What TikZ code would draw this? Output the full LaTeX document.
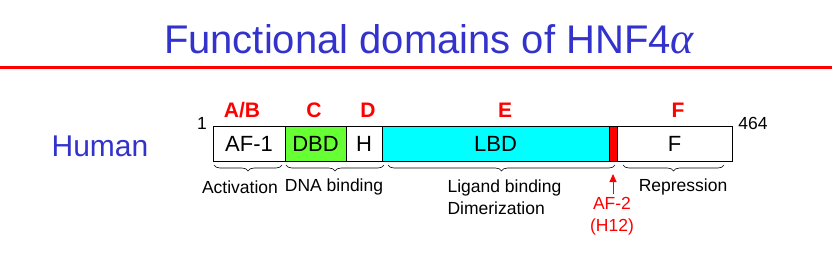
\documentclass[tikz,border=0pt]{standalone}
\usepackage{fontspec}
\setmainfont{Liberation Sans}
\newfontfamily\greekserif{Liberation Serif}
\usetikzlibrary{decorations.pathreplacing,arrows.meta}
\definecolor{titleblue}{RGB}{51,51,204}
\definecolor{dbdgreen}{RGB}{102,255,51}
\definecolor{lbdcyan}{RGB}{0,255,255}
\definecolor{domred}{RGB}{255,0,0}
\begin{document}
\begin{tikzpicture}[x=1pt,y=-1pt,
  box/.style={draw=black,line width=1pt,rectangle,inner sep=0pt,minimum height=35pt,font=\fontsize{22}{24}\selectfont},
  letter/.style={text=domred,font=\fontsize{21}{23}\selectfont\bfseries},
  small/.style={font=\fontsize{17.5}{22}\selectfont},
  brace/.style={decorate,decoration={brace,amplitude=6pt},line width=0.6pt}
]
\useasboundingbox (0,0) rectangle (832,269);
% title
\node[text=titleblue,font=\fontsize{40}{44}\selectfont,anchor=base] (title) at (429,53) {Functional domains of HNF4{\greekserif\itshape\fontsize{44}{44}\selectfont α}};
\draw[domred,line width=3pt] (0,67) coordinate (rl) -- (832,67) coordinate (rr);
% Human
\node[text=titleblue,font=\fontsize{30}{32}\selectfont] (human) at (100,146) {Human};
% boxes
\node[box,minimum width=72pt] (af1) at (249,143.5) {AF-1};
\node[box,minimum width=61pt,fill=dbdgreen] (dbd) at (315.5,143.5) {DBD};
\node[box,minimum width=36pt] (h) at (364,143.5) {H};
\node[box,minimum width=227pt,fill=lbdcyan] (lbd) at (495.5,143.5) {LBD};
\node[box,minimum width=115pt] (f) at (674.5,143.5) {F};
\node[draw=black,line width=1pt,fill=domred,rectangle,inner sep=0pt,minimum width=8pt,minimum height=35pt] (af2box) at (613,143.5) {};
% numbers
\node[small] (n1) at (202,123) {1};
\node[small] (n464) at (753,123) {464};
% letters
\node[letter] (lab) at (242,110) {A/B};
\node[letter] (lc) at (314,110) {C};
\node[letter] (ld) at (368,110) {D};
\node[letter] (le) at (505,110) {E};
\node[letter] (lf) at (678,110) {F};
% braces
\coordinate (b1a) at (214,165); \coordinate (b1b) at (282,165);
\coordinate (b2a) at (286,165); \coordinate (b2b) at (384,165);
\coordinate (b3a) at (388,165); \coordinate (b3b) at (615,165);
\coordinate (b4a) at (623,165); \coordinate (b4b) at (724,165);
\draw[brace] (b1b) -- (b1a);
\draw[brace] (b2b) -- (b2a);
\draw[brace] (b3b) -- (b3a);
\draw[brace] (b4b) -- (b4a);
% brace labels
\node[small] (act) at (240,187) {Activation};
\node[small] (dna) at (334,187) {DNA binding};
\node[small,align=left,anchor=north west] (lig) at (444,176) {Ligand binding\\Dimerization};
\node[small] (rep) at (683,187) {Repression};
% AF-2
\node[small,text=domred,align=center,anchor=north] (af2) at (612,194) {AF-2\\(H12)};
\coordinate (af2tip) at (613,174);
\draw[domred,line width=1pt,-{Triangle[length=8pt,width=7pt]}] (af2.north -| af2tip) -- (af2tip);
\end{tikzpicture}
\end{document}
